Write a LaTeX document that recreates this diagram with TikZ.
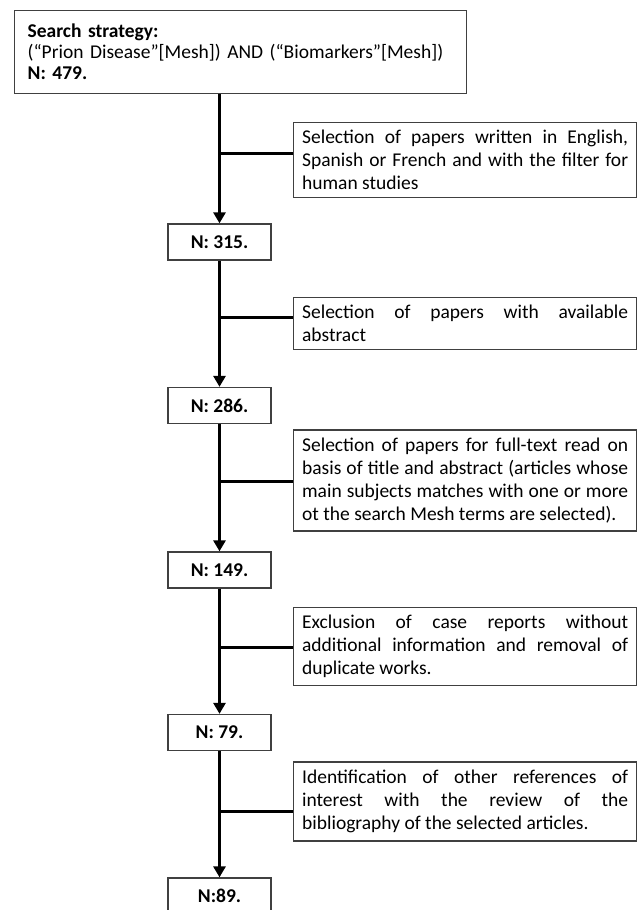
\documentclass[tikz,border=0pt]{standalone}
\usepackage{fontspec}
\setmainfont{Carlito}
\usetikzlibrary{arrows.meta}
\begin{document}
\begin{tikzpicture}[x=1pt, y=-1pt,
  box/.style={draw=black!75, line width=1.3pt},
  count/.style={box, minimum width=103pt, minimum height=36pt, inner sep=0pt,
    font=\fontsize{19.5}{21}\selectfont\bfseries},
  note/.style={box, anchor=west, text width=326pt, inner xsep=8.5pt, inner ysep=8pt,
    align=justify, font=\fontsize{19.5}{23}\selectfont},
  flow/.style={line width=3pt, -{Triangle[length=11pt, width=12pt]}},
  branch/.style={line width=3pt}]
\useasboundingbox (0,0) rectangle (637,910);
% nodes
\node[box, anchor=north west, text width=426pt, inner xsep=13pt, inner ysep=6pt,
  minimum height=83pt, align=left, font=\fontsize{19.5}{21}\selectfont] (S) at (14,10)
  {\textbf{Search strategy:}\\(“Prion Disease”[Mesh]) AND (“Biomarkers”[Mesh])\\\textbf{N: 479.}};
\node[count] (N1) at (219.5,242) {N: 315.};
\node[count] (N2) at (219.5,405.5) {N: 286.};
\node[count] (N3) at (219.5,570) {N: 149.};
\node[count] (N4) at (219.5,732.5) {N: 79.};
\node[count] (N5) at (219.5,896) {N:89.};

\node[note] (F1) at (293,160) {Selection of papers written in English,\linebreak
  Spanish or French and with the filter for\linebreak human studies};
\node[note] (F2) at (293,323.5) {Selection of papers with available\linebreak abstract};
\node[note] (F3) at (293,480.5) {Selection of papers for full-text read on\linebreak
  basis of title and abstract (articles whose\linebreak
  main subjects matches with one or more\linebreak
  ot the search Mesh terms are selected).};
\node[note] (F4) at (293,646.5) {Exclusion of case reports without\linebreak
  additional information and removal of\linebreak duplicate works.};
\node[note] (F5) at (293,801.5) {Identification of other references of\linebreak
  interest with the review of the\linebreak
  bibliography of the selected articles.};

% branch points
\coordinate (B1) at (219.5,153);
\coordinate (B2) at (219.5,317);
\coordinate (B3) at (219.5,481);
\coordinate (B4) at (219.5,647);
\coordinate (B5) at (219.5,811);

% arrows
\draw[flow] (S.south -| N1.north) -- (N1.north);
\draw[flow] (N1.south) -- (N2.north);
\draw[flow] (N2.south) -- (N3.north);
\draw[flow] (N3.south) -- (N4.north);
\draw[flow] (N4.south) -- (N5.north);
\foreach \b/\f in {B1/F1, B2/F2, B3/F3, B4/F4, B5/F5}
  \draw[branch] (\b) -- (\b -| \f.west);
\end{tikzpicture}
\end{document}
